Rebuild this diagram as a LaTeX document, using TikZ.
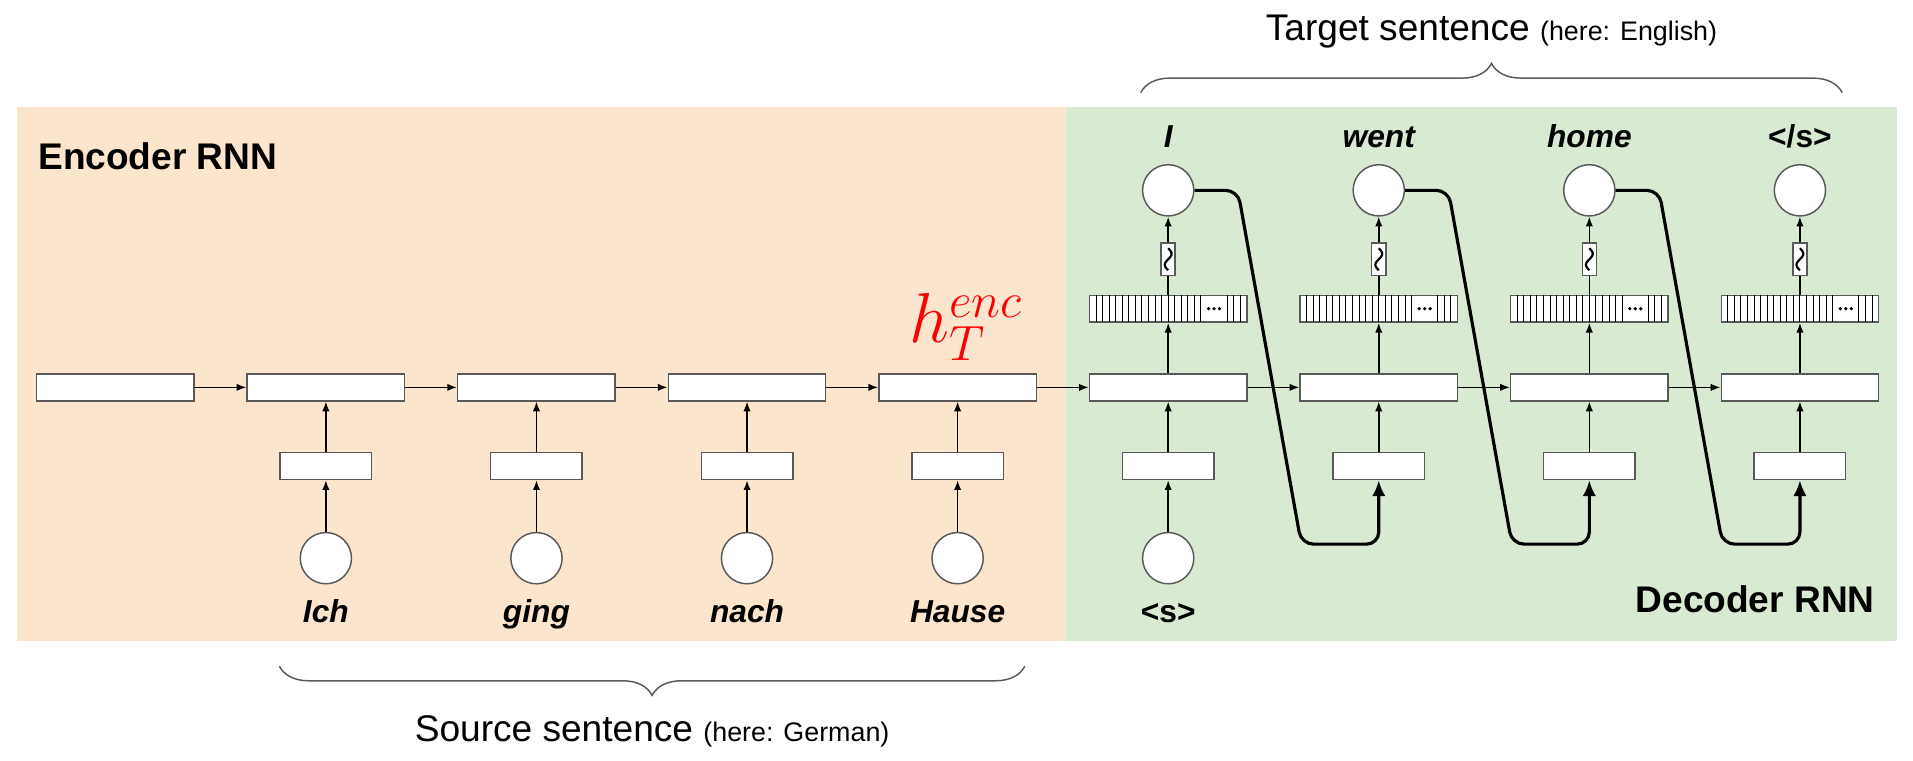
\RequirePackage{fix-cm}
\documentclass[tikz,border=0pt]{standalone}
\usepackage{fontspec}
\setmainfont{Liberation Sans}
\usetikzlibrary{arrows.meta,decorations.pathreplacing,positioning}
\definecolor{encbg}{HTML}{FCE5CD}
\definecolor{decbg}{HTML}{D9EAD3}
\definecolor{boxline}{HTML}{595959}
\begin{document}
\begin{tikzpicture}[x=0.5pt,y=-0.5pt,
  hid/.style={draw=boxline,fill=white,line width=0.6pt,minimum width=64.5pt,minimum height=11pt,inner sep=0pt},
  emb/.style={hid,minimum width=37.5pt},
  smax/.style={draw=boxline,fill=white,line width=0.6pt,minimum width=5.75pt,minimum height=13.5pt,inner sep=0pt},
  tok/.style={circle,draw=boxline,fill=white,line width=0.6pt,minimum size=21pt,inner sep=0pt},
  flow/.style={-{Latex[length=4pt,width=3pt]},line width=0.6pt},
  feed/.style={-{Latex[length=6.5pt,width=5.5pt]},line width=1.3pt,rounded corners=5pt},
  word/.style={anchor=base,inner sep=0pt,font=\fontsize{13}{15}\selectfont\bfseries\itshape},
  sym/.style={anchor=base,inner sep=0pt,font=\fontsize{13}{15}\selectfont\bfseries},
  title/.style={inner sep=0pt,font=\fontsize{15.2}{18}\selectfont\bfseries},
  bracelbl/.style={anchor=base,inner sep=0pt,font=\fontsize{15.2}{18}\selectfont},
  brc/.style={draw=boxline,line width=0.6pt,decorate,decoration={brace,amplitude=12pt}}]
\useasboundingbox (0,0) rectangle (1568,623);
% backgrounds
\fill[encbg] (14,88) rectangle (874,525);
\fill[decbg] (874,88) rectangle (1555,525);
\node[title,anchor=base west] (enclbl) at (31,139) {Encoder RNN};
\node[title,anchor=base east] (declbl) at (1537,502) {Decoder RNN};
% braces
\coordinate (tgtL) at (935,76);
\coordinate (tgtR) at (1510,76);
\coordinate (srcL) at (229,546);
\coordinate (srcR) at (840,546);
\draw[brc] (tgtL) -- (tgtR);
\draw[brc] (srcR) -- (srcL);
\node[bracelbl] (tgt) at (1222.5,33) {Target sentence {\fontsize{11}{13}\selectfont(here: English)}};
\node[bracelbl] (src) at (534.5,608) {Source sentence {\fontsize{11}{13}\selectfont(here: German)}};
% hidden states
\foreach \i in {0,...,8}
  \node[hid] (h\i) at ({94.5+172.6*\i},317.5) {};
\foreach \i in {1,...,8}
  \node[emb] (e\i) at ({94.5+172.6*\i},382) {};
\foreach \i in {1,...,5}
  \node[tok] (x\i) at ({94.5+172.6*\i},457.5) {};
\foreach \i/\w in {1/Ich,2/ging,3/nach,4/Hause}
  \node[word] (w\i) at ({94.5+172.6*\i},510) {\w};
\node[sym] (w5) at (957.5,510) {<s>};
% decoder outputs
\foreach \i [evaluate=\i as \cx using 94.5+172.6*\i] in {5,...,8} {
  \node[hid] (v\i) at (\cx,253) {};
  \foreach \k in {1,...,17,21,22,23}
    \draw[line width=0.4pt] ({\cx-64.5+\k*5.375},242) -- ++(0,22);
  \foreach \d in {-4.5,0,4.5}
    \fill ({\cx-64.5+19*5.375+\d},253) circle (1.5);
  \node[smax] (s\i) at (\cx,212.5) {};
  \draw[line width=0.9pt] plot[domain=-1:1,samples=25] ({\cx-2.8*sin(180*\x)},{212.5+9*\x});
  \node[tok] (o\i) at (\cx,156) {};
}
\foreach \i/\w in {5/I,6/went,7/home}
  \node[word] (y\i) at ({94.5+172.6*\i},121) {\w};
\node[sym] (y8) at (1475.3,121) {</s>};
\node[text=red,anchor=base west,inner sep=0pt,font=\fontsize{29}{32}\selectfont] (henc) at (745,281) {$h_T^{enc}$};
% connections
\foreach \i [evaluate=\i as \j using int(\i+1)] in {0,...,7}
  \draw[flow] (h\i) -- (h\j);
\foreach \i in {1,...,8}
  \draw[flow] (e\i) -- (h\i);
\foreach \i in {1,...,5}
  \draw[flow] (x\i) -- (e\i);
\foreach \i in {5,...,8} {
  \draw[flow] (h\i) -- (v\i);
  \draw[line width=0.6pt] (v\i) -- (s\i);
  \draw[flow] (s\i) -- (o\i);
}
% feed previous output back in
\foreach \i [evaluate=\i as \j using int(\i+1)] in {5,6,7}
  \draw[feed] (o\i.east) -- ++(35.5,0) -- ++(52,290) -- ({94.5+172.6*\j},446) -- (e\j.south);
\end{tikzpicture}
\end{document}
